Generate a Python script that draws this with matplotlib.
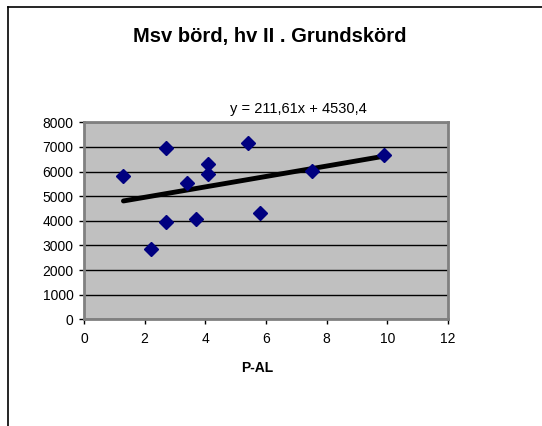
import matplotlib.pyplot as plt
from matplotlib.lines import Line2D
import numpy as np

plt.rcParams['font.family'] = ['Liberation Sans', 'DejaVu Sans']

# P-AL vs yield
p_al = [1.3, 2.2, 2.7, 2.7, 3.4, 3.7, 4.1, 4.1, 5.4, 5.8, 7.5, 9.9]
skord = [5820, 2870, 6950, 3950, 5520, 4060, 6310, 5890, 7150, 4300, 6040, 6670]

# trendline from Excel
k, m = 211.61, 4530.4

fig = plt.figure(figsize=(5.42, 4.26), dpi=100)
ax = fig.add_axes([0.155, 0.2505, 0.6716, 0.4624])
ax.set_facecolor('#C0C0C0')

xs = np.array([min(p_al), max(p_al)])
ax.plot(xs, k * xs + m, color='black', linewidth=3.5, solid_capstyle='round', zorder=2)
ax.plot(p_al, skord, 'D', color='#000080', markersize=7.5, linestyle='none', zorder=3)

ax.set_xlim(0, 12)
ax.set_ylim(0, 8000)
ax.set_xticks(range(0, 13, 2))
ax.set_yticks(range(0, 8001, 1000))
ax.yaxis.grid(True, color='black', linewidth=1)
ax.set_axisbelow(True)
for s in ax.spines.values():
    s.set_color('#808080')
    s.set_linewidth(2)
ax.tick_params(direction='out', length=3.5, width=1, colors='black', labelsize=10, pad=4)
ax.tick_params(axis='x', pad=6)

fig.text(0.498, 0.902, 'Msv börd, hv II . Grundskörd', ha='center', va='baseline',
         fontsize=14.5, fontweight='bold')
fig.text(0.55, 0.7336, 'y = 211,61x + 4530,4', ha='center', va='baseline', fontsize=10.5)
fig.text(0.474, 0.126, 'P-AL', ha='center', va='baseline', fontsize=10, fontweight='bold')

# chart border (top and left)
fig.add_artist(Line2D([8 / 542, 1], [1 - 7 / 426, 1 - 7 / 426], transform=fig.transFigure,
                      color='black', linewidth=1.2))
fig.add_artist(Line2D([8 / 542, 8 / 542], [0, 1 - 7 / 426], transform=fig.transFigure,
                      color='black', linewidth=1.2))

fig.savefig('out.png', dpi=100)
